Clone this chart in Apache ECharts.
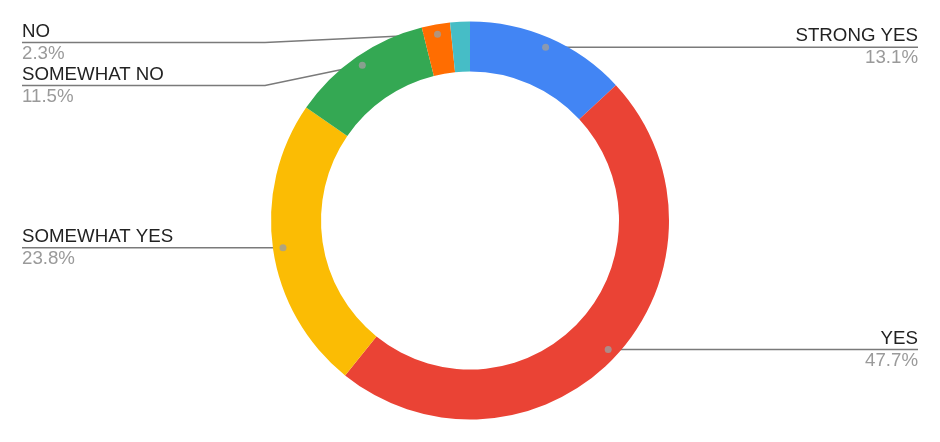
<!DOCTYPE html>
<html><head><meta charset="utf-8">
<script src="https://cdn.jsdelivr.net/npm/echarts@6/dist/echarts.min.js"></script>
<style>html,body{margin:0;padding:0;background:#fff}#c{width:940px;height:442px}</style>
</head><body><div id="c"></div>
<script>
const categories = ['STRONG YES', 'YES', 'SOMEWHAT YES', 'SOMEWHAT NO', 'NO', 'STRONG NO'];
const values = [13.1, 47.7, 23.8, 11.5, 2.3, 1.6];
const percentLabels = ['13.1%', '47.7%', '23.8%', '11.5%', '2.3%', '1.6%'];
const showLabel = [true, true, true, true, true, false];
const colors = ['#4285F4', '#EA4335', '#FBBC04', '#34A853', '#FF6D01', '#46BDC6'];

const CX = 470, CY = 220.5, R_IN = 149, R_OUT = 199, R_DOT = 189;
const LABEL_TOP = 21;
const FONT = "'Liberation Sans', Arial, sans-serif";
const total = values.reduce((a, b) => a + b, 0);
let acc = 0;
const mids = values.map(v => { const m = acc + v / 2; acc += v; return m; });

const chart = echarts.init(document.getElementById('c'), null, { renderer: 'canvas' });
chart.setOption({
  animation: false,
  polar: { center: [CX, CY], radius: [0, R_DOT] },
  angleAxis: { type: 'value', min: 0, max: total, startAngle: 90, clockwise: true, show: false },
  radiusAxis: { type: 'value', min: 0, max: 1, show: false },
  series: [
    {
      type: 'pie', center: [CX, CY], radius: [R_IN, R_OUT], startAngle: 90, clockwise: true,
      silent: true, label: { show: false }, labelLine: { show: false },
      data: categories.map((c, i) => ({ name: c, value: values[i], itemStyle: { color: colors[i] } }))
    },
    {
      type: 'pie', top: LABEL_TOP, center: [CX, CY - LABEL_TOP], radius: [0, R_DOT],
      startAngle: 90, clockwise: true,
      silent: true, itemStyle: { color: 'rgba(0,0,0,0)' },
      label: {
        show: true, position: 'outside', alignTo: 'edge', edgeDistance: 22,
        formatter: p => '{n|' + p.name + '}\n{v|' + percentLabels[p.dataIndex] + '}',
        rich: {
          n: { fontSize: 18.7, color: '#222222', lineHeight: 22, fontFamily: FONT },
          v: { fontSize: 18.7, color: '#9a9a9a', lineHeight: 22, fontFamily: FONT }
        }
      },
      labelLine: { show: true, length: 0, length2: 10, lineStyle: { color: '#7a7a7a', width: 1.5 } },
      labelLayout: function (params) {
        const pts = params.labelLinePoints;
        if (!pts) return {};
        const r = params.labelRect;
        const isLeft = r.x + r.width / 2 < CX;
        const y = r.y + r.height / 2;
        const start = pts[0];
        const endX = isLeft ? r.x : r.x + r.width;
        let bendX = start[0];
        if (Math.abs(start[1] - y) > 1) bendX = isLeft ? CX - R_OUT - 6 : CX + R_OUT + 6;
        return { labelLinePoints: [start, [bendX, y], [endX, y]] };
      },
      data: categories.map((c, i) => ({
        name: c, value: values[i],
        label: { show: showLabel[i] }, labelLine: { show: showLabel[i] }
      }))
    },
    {
      type: 'scatter', coordinateSystem: 'polar', silent: true, z: 5,
      symbol: 'circle', symbolSize: 7, itemStyle: { color: '#9e9e9e' },
      data: mids.filter((m, i) => showLabel[i]).map(m => [1, m])
    }
  ]
});
</script>
</body></html>
